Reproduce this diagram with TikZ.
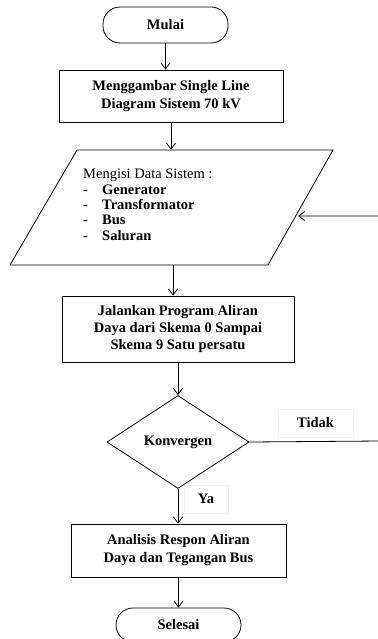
\documentclass[tikz,border=0pt]{standalone}
\usepackage{fontspec}
\setmainfont{Liberation Serif}
\usetikzlibrary{arrows.meta,shapes.geometric}
\begin{document}
\begin{tikzpicture}[x=1pt,y=-1pt,
  txt/.style={font=\fontsize{14.5}{18}\selectfont\bfseries, align=center},
  procbox/.style={draw, line width=0.8pt, txt, inner sep=0pt},
  termbox/.style={draw, line width=0.8pt, txt, rounded corners=17pt, inner sep=0pt},
  decbox/.style={draw, line width=0.8pt, txt, diamond, aspect=1.53, inner sep=0pt, minimum width=142pt, minimum height=93pt},
  conn/.style={line width=0.8pt, -{Straight Barb[length=6pt,width=9pt]}},
  faint/.style={draw=black!5, line width=0.6pt}
]
\useasboundingbox (0,0) rectangle (377,639);
\fill[white] (0,0) rectangle (377,639);

\node[termbox, minimum width=125pt, minimum height=36pt] (mulai) at (165.5,25) {Mulai};
\node[procbox, minimum width=224pt, minimum height=52pt] (box1) at (171,96) {Menggambar Single Line\\Diagram Sistem 70 kV};

% parallelogram
\node[minimum width=190pt, minimum height=115pt, inner sep=0pt] (para) at (173,207.5) {};
\draw[line width=0.8pt] (77,150) -- (333,150) -- (268,265) -- (10,265) -- cycle;
\node[anchor=north west, align=left, inner sep=0pt, font=\fontsize{14.5}{15.3}\selectfont] (paratext) at (83,169)
  {Mengisi Data Sistem :\\
   \makebox[19pt][l]{-}\textbf{Generator}\\
   \makebox[19pt][l]{-}\textbf{Transformator}\\
   \makebox[19pt][l]{-}\textbf{Bus}\\
   \makebox[19pt][l]{-}\textbf{Saluran}};
\coordinate (pin) at (298,216);

\node[procbox, minimum width=232pt, minimum height=66pt, font=\fontsize{14.5}{17}\selectfont\bfseries] (box2) at (178,329) {Jalankan Program Aliran\\Daya dari Skema 0 Sampai\\Skema 9 Satu persatu};
\node[decbox] (konv) at (178,442) {Konvergen};
\node[procbox, minimum width=215pt, minimum height=53pt] (box3) at (178.5,550.5) {Analisis Respon Aliran\\Daya dan Tegangan Bus};
\node[termbox, minimum width=125pt, minimum height=34pt] (selesai) at (178.5,625) {Selesai};

% labels
\node[faint, txt, minimum width=75pt, minimum height=28pt, inner sep=0pt] (tidak) at (315.5,423) {Tidak};
\node[faint, txt, minimum width=44pt, minimum height=28pt, inner sep=0pt] (ya) at (206,499) {Ya};

\coordinate (r1) at (381,441);
\coordinate (r2) at (381,216);

% connectors
\draw[conn] (mulai.south) -- (mulai.south |- box1.north);
\draw[conn] (box1.south) -- (box1.south |- para.north);
\draw[conn] (para.south) -- (para.south |- box2.north);
\draw[conn] (box2.south) -- (konv.north);
\draw[conn] (konv.south) -- (konv.south |- box3.north);
\draw[conn] (box3.south) -- (box3.south |- selesai.north);
\draw[conn] (konv.east) -- (r1) -- (r2) -- (pin);
\end{tikzpicture}
\end{document}
